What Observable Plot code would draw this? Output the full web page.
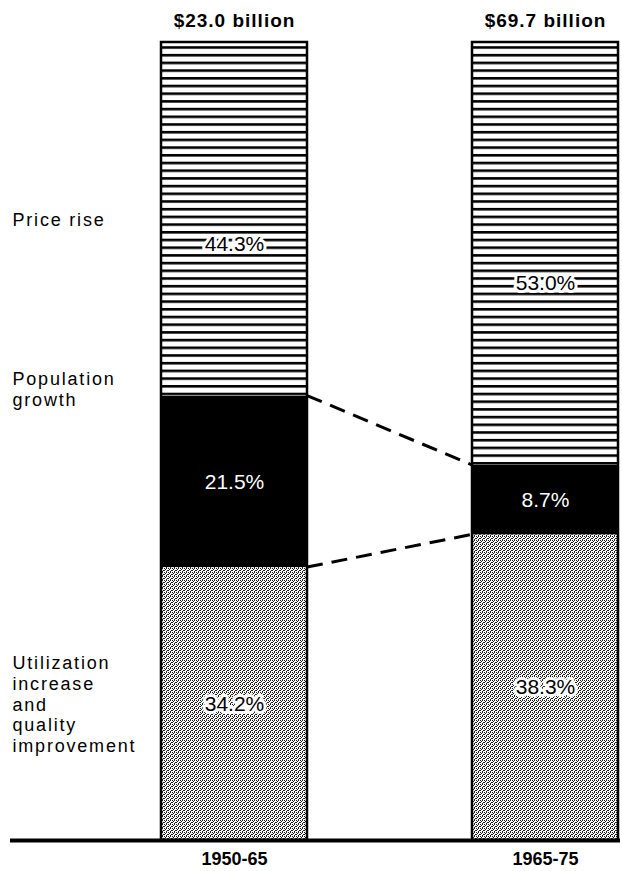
<!DOCTYPE html>
<html><head><meta charset="utf-8">
<script src="https://cdn.jsdelivr.net/npm/d3@7"></script>
<script src="https://cdn.jsdelivr.net/npm/@observablehq/plot@0.6"></script>
<style>body{margin:0;background:#fff;}</style>
</head><body><div id="chart"></div>
<script>
// ---- data ----
const periods = ["1950-65", "1965-75"];
const totals = ["$23.0 billion", "$69.7 billion"];
// stack order: bottom -> top
const categories = ["Utilization increase and quality improvement", "Population growth", "Price rise"];
const categoryLabels = ["Utilization\nincrease\nand\nquality\nimprovement", "Population\ngrowth", "Price rise"];
const utilization = [34.2, 38.3];
const population = [21.5, 8.7];
const priceRise = [44.3, 53.0];

// ---- derived tables ----
const series = [utilization, population, priceRise];
const rows = periods.flatMap((p, i) => categories.map((c, j) => ({period: p, category: c, value: series[j][i]})));
const segs = [];
periods.forEach((p, i) => {
  let acc = 0;
  categories.forEach((c, j) => {
    const v = series[j][i];
    segs.push({period: p, category: c, idx: j, value: v, y0: acc, y1: acc + v});
    acc += v;
  });
});
const sums = periods.map((p, i) => ({period: p, total: totals[i], value: d3.sum(series, s => s[i])}));
const labelY = d => d.idx === 2 ? d.y1 - 0.57 * d.value : (d.y0 + d.y1) / 2;
const leftSegs = segs.filter(d => d.period === periods[0]);

const fills = ["url(#dots)", "black", "url(#hatch)"];
const font = "'Liberation Sans', Arial, Helvetica, sans-serif";

function connectors(index, scales) {
  const x = scales.x, y = scales.y, bw = x.bandwidth();
  const g = d3.create("svg:g")
    .attr("fill", "none").attr("stroke", "black")
    .attr("stroke-width", 3).attr("stroke-dasharray", "16 9");
  const bounds = [
    utilization.map((u, i) => u + population[i]),
    utilization
  ];
  for (const b of bounds) {
    g.append("line")
      .attr("x1", x(periods[0]) + bw).attr("y1", y(b[0]))
      .attr("x2", x(periods[1])).attr("y2", y(b[1]));
  }
  return g.node();
}

const chart = Plot.plot({
  width: 622, height: 871,
  marginLeft: 10, marginRight: 2, marginTop: 42, marginBottom: 31,
  x: {type: "band", domain: periods, range: [160, 618], paddingInner: 0.532, paddingOuter: 0},
  y: {domain: [0, 100], axis: null},
  color: {domain: categories, range: fills},
  style: {fontFamily: font, background: "white", color: "black"},
  marks: [
    Plot.barY(rows, Plot.stackY({x: "period", y: "value", fill: "category", order: categories})),
    Plot.barY(sums, {x: "period", y: "value", fill: "none", stroke: "black", strokeWidth: 2.5}),
    connectors,
    Plot.ruleY([0], {stroke: "black", strokeWidth: 4}),
    Plot.axisX({tickSize: 0, tickPadding: 12, fontSize: 18, fontWeight: "bold", label: null}),
    Plot.text(sums, {x: "period", y: "value", text: "total", fontSize: 19, fontWeight: "bold", lineAnchor: "middle", dy: -22}),
    Plot.text(segs.filter(d => d.idx !== 1), {x: "period", y: labelY, text: d => d.value.toFixed(1) + "%", fontSize: 21, fill: "black", stroke: "white", strokeWidth: 6, lineAnchor: "middle"}),
    Plot.text(segs.filter(d => d.idx === 1), {x: "period", y: labelY, text: d => d.value.toFixed(1) + "%", fontSize: 21, fill: "white", lineAnchor: "middle"}),
    Plot.text(leftSegs, {frameAnchor: "left", y: d => d.idx === 1 ? d.y1 : (d.y0 + d.y1) / 2, text: d => categoryLabels[d.idx], textAnchor: "start", lineAnchor: "middle", dx: 2, fontSize: 18, lineHeight: 1.15})
  ]
});

// patterns
const svg = d3.select(chart);
const defs = svg.insert("defs", ":first-child");
const hatch = defs.append("pattern").attr("id", "hatch").attr("patternUnits", "userSpaceOnUse")
  .attr("width", 8).attr("height", 7.7);
hatch.append("rect").attr("width", 8).attr("height", 7.7).attr("fill", "white");
hatch.append("rect").attr("width", 8).attr("height", 2.6).attr("fill", "black");
const dots = defs.append("pattern").attr("id", "dots").attr("patternUnits", "userSpaceOnUse")
  .attr("width", 4).attr("height", 4);
dots.append("rect").attr("width", 4).attr("height", 4).attr("fill", "white");
for (const [px, py] of [[0, 0], [2, 0], [1, 1], [3, 2], [0, 2], [2, 3]]) {
  dots.append("rect").attr("x", px).attr("y", py).attr("width", 1).attr("height", 1).attr("fill", "#1a1a1a");
}
const catStarts = categoryLabels.map(s => s.split("\n")[0]);
svg.selectAll("text").each(function() {
  const t = d3.select(this);
  const s = this.textContent;
  if (catStarts.some(c => s.startsWith(c))) {
    t.style("letter-spacing", "1.8px");
    if (s.startsWith("Population")) t.attr("transform", (t.attr("transform") || "") + " translate(0,-7)");
  } else if (totals.includes(s)) {
    t.style("letter-spacing", "1px");
  }
});
document.getElementById("chart").append(chart);
</script></body></html>
